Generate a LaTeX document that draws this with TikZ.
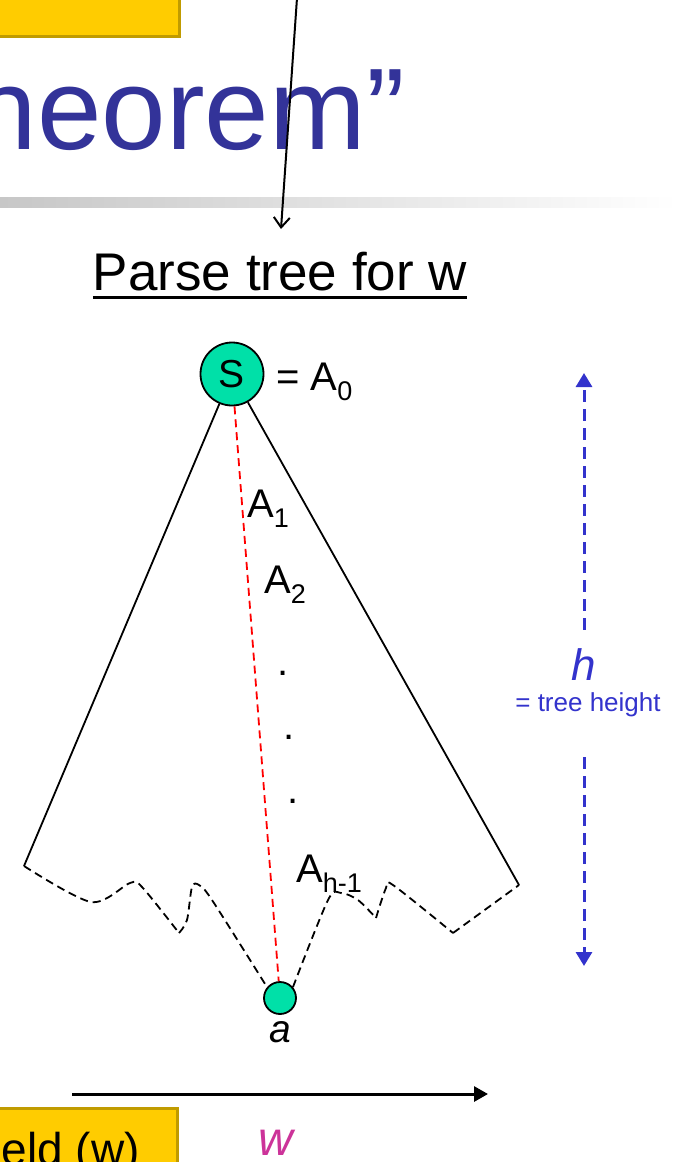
\documentclass[tikz,border=0pt]{standalone}
\usepackage{fontspec}
\setmainfont{Liberation Sans}
\usetikzlibrary{arrows.meta}
\definecolor{gold}{HTML}{FFCC00}
\definecolor{goldedge}{HTML}{C09B00}
\definecolor{titleblue}{HTML}{333399}
\definecolor{hblue}{HTML}{3333CC}
\definecolor{nodegreen}{HTML}{00E0A8}
\definecolor{wmag}{HTML}{CC3399}
\newcommand\subs[1]{\raisebox{-10pt}{\fontsize{27}{29}\selectfont #1}}
\begin{document}
\begin{tikzpicture}[x=1pt,y=-1pt,
  ybox/.style={fill=gold, draw=goldedge, line width=3pt},
  treenode/.style={circle, draw=black, line width=1.8pt, fill=nodegreen, inner sep=0pt},
  lbl/.style={font=\fontsize{40}{44}\selectfont, inner sep=0pt},
  blackdash/.style={line width=1.8pt, dash pattern=on 8pt off 5pt},
  reddash/.style={red, line width=1.8pt, dash pattern=on 8pt off 5pt},
  bluedash/.style={hblue, line width=3pt, dash pattern=on 12pt off 7pt, -{Triangle[length=14pt,width=16pt]}},
]
\useasboundingbox (0,0) rectangle (677,1162);
\clip (0,0) rectangle (677,1162);

% top yellow box and title
\draw[ybox] (-10,-10) rectangle (179,36);
\node[anchor=base east, text=titleblue, font=\fontsize{116}{120}\selectfont, inner sep=0pt] (title) at (405,149) {heorem”};
\shade[left color=black!22, right color=white] (0,197) rectangle (677,207);

% parse tree heading
\node[font=\fontsize{53}{57}\selectfont, anchor=base, inner sep=0pt] (parse) at (280,290) {Parse tree for w};
\draw[line width=3pt] ([yshift=-7pt]parse.base west) -- ([yshift=-7pt]parse.base east);
\coordinate (ptop) at (297,-2);
\coordinate (pend) at (281,229);
\draw[line width=2pt, -{Straight Barb[length=10pt,width=16pt]}] (ptop) -- (pend);

% tree
\node[treenode, minimum size=63pt, font=\fontsize{39}{41}\selectfont] (S) at (232,374) {S};
\node[lbl, anchor=base west] (A0) at (276,390) {= A\subs{0}};
\coordinate (L) at (24,866);
\coordinate (R) at (519,885);
\draw[line width=1.8pt] (S) -- (L);
\draw[line width=1.8pt] (S) -- (R);
\node[treenode, minimum size=32pt] (a) at (280,998) {};
\node[font=\itshape\fontsize{39}{42}\selectfont, anchor=base, inner sep=0pt] (alab) at (280,1042) {a};
\draw[reddash] (S) -- (a);
\draw[blackdash] plot[smooth, tension=0.5] coordinates {(L) (91,902) (130,883) (142,887) (179,933)};
\draw[blackdash] plot[smooth, tension=0.5] coordinates {(179,933) (187,920) (192,887) (199,885) (212,900) (a.140)};
\draw[blackdash] plot[smooth, tension=0.5] coordinates {(a.40) (328,900) (341,893) (358,900) (376,918)};
\draw[blackdash] plot[smooth, tension=0.5] coordinates {(376,918) (386,888) (393,885) (453,933)};
\draw[blackdash] (453,933) -- (R);

\node[lbl, anchor=base west] (A1) at (247,517) {A\subs{1}};
\node[lbl, anchor=base west] (A2) at (264,593) {A\subs{2}};
\node[lbl] (d1) at (283,673) {.};
\node[lbl] (d2) at (289,737) {.};
\node[lbl] (d3) at (293,801) {.};
\node[lbl, anchor=base west] (Ah) at (296,882) {A\subs{h-1}};

% height arrow
\coordinate (htop) at (584,373);
\coordinate (hbot) at (584,966);
\node[font=\itshape\fontsize{44}{46}\selectfont, text=hblue, anchor=base, inner sep=0pt] (h) at (584,680) {h};
\node[font=\fontsize{26}{28}\selectfont, text=hblue, inner sep=0pt] (th) at (588,705) {= tree height};
\draw[bluedash, shorten <=18pt] (h.north) -- (htop);
\draw[bluedash, shorten <=40pt] (hbot |- th.south) -- (hbot);

% yield arrow
\coordinate (wl) at (72,1094);
\coordinate (wr) at (488,1094);
\draw[line width=3pt, -{Triangle[length=14pt,width=15pt]}] (wl) -- (wr);
\draw[ybox] (-10,1108) rectangle (177,1175);
\node[font=\fontsize{46}{50}\selectfont, anchor=base east, inner sep=0pt] (yield) at (140,1165) {Yield (w)};
\node[font=\itshape\fontsize{48}{50}\selectfont, text=wmag, anchor=base, inner sep=0pt] (w) at (276,1155) {w};
\end{tikzpicture}
\end{document}
